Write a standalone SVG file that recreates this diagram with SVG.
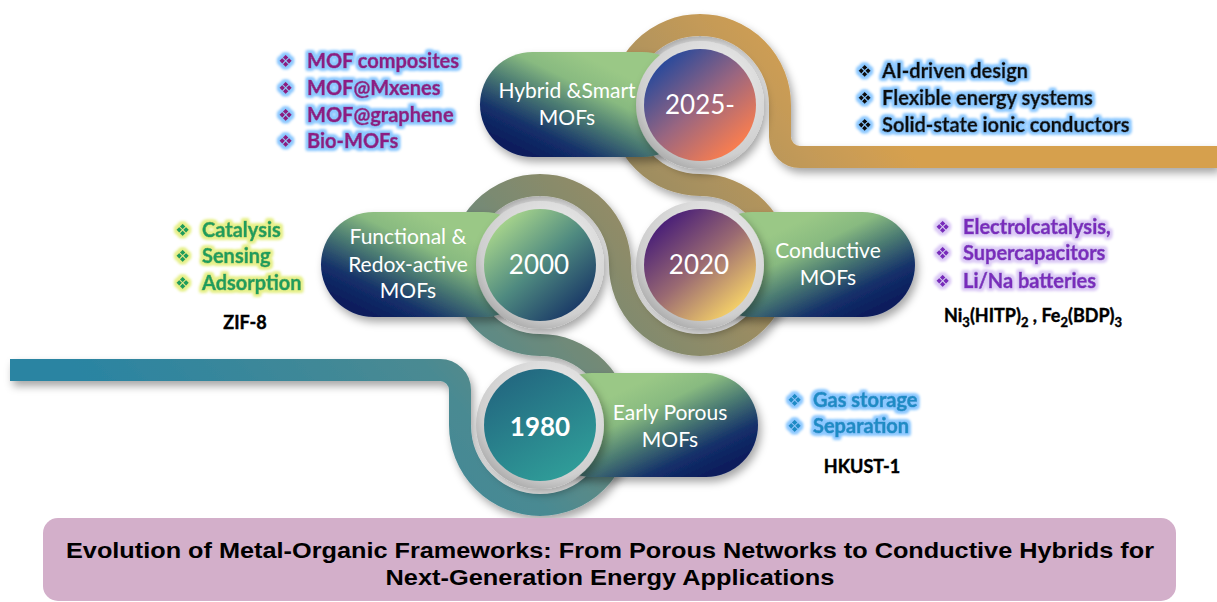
<svg xmlns="http://www.w3.org/2000/svg" width="1217" height="602" viewBox="0 0 1217 602">
<defs>
<linearGradient id="road" gradientUnits="userSpaceOnUse" x1="200" y1="520" x2="800" y2="20">
<stop offset="0" stop-color="#2a84a2"/><stop offset="0.35" stop-color="#4a8a92"/><stop offset="0.55" stop-color="#7a8a72"/><stop offset="0.7" stop-color="#9a8c62"/><stop offset="0.9" stop-color="#c49a58"/><stop offset="1" stop-color="#d6a04e"/>
</linearGradient>
<linearGradient id="pillL" x1="0.15" y1="0.9" x2="0.75" y2="0.3">
<stop offset="0" stop-color="#0b1d5c"/><stop offset="0.22" stop-color="#14306a"/><stop offset="0.5" stop-color="#4a7a72"/><stop offset="0.75" stop-color="#88ba80"/><stop offset="1" stop-color="#9ac886"/>
</linearGradient>
<linearGradient id="pillR" x1="0.85" y1="0.9" x2="0.25" y2="0.3">
<stop offset="0" stop-color="#0b1d5c"/><stop offset="0.22" stop-color="#14306a"/><stop offset="0.5" stop-color="#4a7a72"/><stop offset="0.75" stop-color="#88ba80"/><stop offset="1" stop-color="#9ac886"/>
</linearGradient>
<radialGradient id="ring" cx="0.6" cy="0.35" r="0.7">
<stop offset="0" stop-color="#f2f2f2"/><stop offset="0.8" stop-color="#cfcfcf"/><stop offset="1" stop-color="#a8a8a8"/>
</radialGradient>
<linearGradient id="c1980" x1="0.2" y1="0" x2="0.8" y2="1">
<stop offset="0" stop-color="#22657f"/><stop offset="1" stop-color="#30a09a"/>
</linearGradient>
<linearGradient id="c2000" x1="0.15" y1="0.1" x2="0.85" y2="0.9">
<stop offset="0" stop-color="#a9d68c"/><stop offset="0.5" stop-color="#4f8a80"/><stop offset="1" stop-color="#183766"/>
</linearGradient>
<linearGradient id="c2020" x1="0.15" y1="0.1" x2="0.85" y2="0.9">
<stop offset="0" stop-color="#461c78"/><stop offset="0.5" stop-color="#9a6a72"/><stop offset="1" stop-color="#f8d468"/>
</linearGradient>
<linearGradient id="c2025" x1="0.15" y1="0.1" x2="0.85" y2="0.9">
<stop offset="0" stop-color="#24489c"/><stop offset="0.5" stop-color="#9a6680"/><stop offset="1" stop-color="#ff7f4c"/>
</linearGradient>
<filter id="sh" x="-20%" y="-20%" width="140%" height="150%">
<feDropShadow dx="3" dy="5" stdDeviation="4" flood-color="#000" flood-opacity="0.35"/>
</filter>
<filter id="gBlue" x="-10%" y="-40%" width="120%" height="180%">
<feMorphology in="SourceAlpha" operator="dilate" radius="1.5" result="d"/><feGaussianBlur in="d" stdDeviation="1.8" result="b"/><feFlood flood-color="#8cc8ff"/><feComposite in2="b" operator="in" result="g"/>
<feMerge><feMergeNode in="g"/><feMergeNode in="g"/><feMergeNode in="SourceGraphic"/></feMerge>
</filter>
<filter id="gGreen" x="-10%" y="-40%" width="120%" height="180%">
<feMorphology in="SourceAlpha" operator="dilate" radius="1.5" result="d"/><feGaussianBlur in="d" stdDeviation="1.8" result="b"/><feFlood flood-color="#e6f08a"/><feComposite in2="b" operator="in" result="g"/>
<feMerge><feMergeNode in="g"/><feMergeNode in="g"/><feMergeNode in="SourceGraphic"/></feMerge>
</filter>
<filter id="gPurple" x="-10%" y="-40%" width="120%" height="180%">
<feMorphology in="SourceAlpha" operator="dilate" radius="1.5" result="d"/><feGaussianBlur in="d" stdDeviation="1.8" result="b"/><feFlood flood-color="#dccbf6"/><feComposite in2="b" operator="in" result="g"/>
<feMerge><feMergeNode in="g"/><feMergeNode in="g"/><feMergeNode in="SourceGraphic"/></feMerge>
</filter>
<style>
.lbl{font-family:Lato,"Open Sans",sans-serif;font-size:21px;fill:#fff;text-anchor:middle}
.yr{font-family:Lato,"Open Sans",sans-serif;font-size:26px;fill:#fff;text-anchor:middle}
.li{font-family:Lato,"Open Sans",sans-serif;font-weight:700;font-size:20px;stroke-width:0.6px}
.bul{font-family:"DejaVu Sans",sans-serif;font-size:17px;stroke:none}
.mol{font-family:Lato,"Open Sans",sans-serif;font-weight:700;font-size:18px;fill:#000;stroke:#000;stroke-width:0.4px}
.ttl{font-family:"Liberation Sans",Arial,sans-serif;font-weight:700;font-size:22px;fill:#000;text-anchor:middle}
.ring{fill:url(#ring)}
</style>
</defs>
<rect width="1217" height="602" fill="#ffffff"/>

<g id="connectors">
<path d="M 10 370 H 440 A 20 20 0 0 1 460 390 V 425 A 80 80 0 0 0 540 505 A 80 80 0 0 0 620 425 A 80 80 0 0 0 540 345 A 80 80 0 0 1 460 265 A 80 80 0 0 1 540 185 A 80 80 0 0 1 620 265 A 80 80 0 0 0 700 345 A 80 80 0 0 0 780 265 A 80 80 0 0 0 700 185 A 80 80 0 0 1 620 105 A 80 80 0 0 1 700 25 A 80 80 0 0 1 780 105 V 137 A 20 20 0 0 0 800 157 H 1217" fill="none" stroke="url(#road)" stroke-width="22" filter="url(#sh)"/>
</g>

<g id="title">
<rect x="43" y="518" width="1133" height="83" rx="15" fill="#d3afca"/>
<text class="ttl" x="610" y="558" textLength="1088" lengthAdjust="spacingAndGlyphs">Evolution of Metal-Organic Frameworks: From Porous Networks to Conductive Hybrids for</text>
<text class="ttl" x="610" y="585" textLength="449" lengthAdjust="spacingAndGlyphs">Next-Generation Energy Applications</text>
</g>

<g id="node-1980">
<rect x="540" y="373" width="218" height="104" rx="52" fill="url(#pillR)" filter="url(#sh)"/>
<circle cx="540" cy="425" r="64" class="ring" filter="url(#sh)"/>
<circle cx="540" cy="425" r="56" fill="url(#c1980)"/>
<text class="yr" x="540" y="436" font-weight="700">1980</text>
<text class="lbl" x="670" y="420">Early Porous</text>
<text class="lbl" x="670" y="447">MOFs</text>
</g>

<g id="node-2000">
<rect x="321" y="212" width="215" height="105" rx="52.5" fill="url(#pillL)" filter="url(#sh)"/>
<circle cx="540" cy="265" r="64" class="ring" filter="url(#sh)"/>
<circle cx="540" cy="265" r="56" fill="url(#c2000)"/>
<text class="yr" x="539" y="274">2000</text>
<text class="lbl" x="408" y="244">Functional &amp;</text>
<text class="lbl" x="408" y="272">Redox-active</text>
<text class="lbl" x="408" y="298">MOFs</text>
</g>

<g id="node-2020">
<rect x="700" y="212" width="215" height="105" rx="52.5" fill="url(#pillR)" filter="url(#sh)"/>
<circle cx="700" cy="265" r="64" class="ring" filter="url(#sh)"/>
<circle cx="700" cy="265" r="56" fill="url(#c2020)"/>
<text class="yr" x="699" y="274">2020</text>
<text class="lbl" x="828" y="258">Conductive</text>
<text class="lbl" x="828" y="285">MOFs</text>
</g>

<g id="node-2025">
<rect x="480" y="52" width="215" height="105" rx="52.5" fill="url(#pillL)" filter="url(#sh)"/>
<circle cx="700" cy="105" r="64" class="ring" filter="url(#sh)"/>
<circle cx="700" cy="105" r="56" fill="url(#c2025)"/>
<text class="yr" x="700" y="114" font-size="24">2025-</text>
<text class="lbl" x="567" y="98">Hybrid &amp;Smart</text>
<text class="lbl" x="567" y="125">MOFs</text>
</g>

<g id="list-2025-left" fill="#8c1c84" stroke="#8c1c84" filter="url(#gBlue)">
<text class="bul" x="278" y="67">❖</text><text class="li" x="307" y="68">MOF composites</text>
<text class="bul" x="278" y="94">❖</text><text class="li" x="307" y="95">MOF@Mxenes</text>
<text class="bul" x="278" y="121">❖</text><text class="li" x="307" y="122">MOF@graphene</text>
<text class="bul" x="278" y="147">❖</text><text class="li" x="307" y="148">Bio-MOFs</text>
</g>

<g id="list-2025-right" fill="#111111" stroke="#111111" filter="url(#gBlue)">
<text class="bul" x="857" y="77">❖</text><text class="li" x="882" y="78">AI-driven design</text>
<text class="bul" x="857" y="104">❖</text><text class="li" x="882" y="105">Flexible energy systems</text>
<text class="bul" x="857" y="131">❖</text><text class="li" x="882" y="132">Solid-state ionic conductors</text>
</g>

<g id="list-2000" fill="#1f9e5c" stroke="#1f9e5c" filter="url(#gGreen)">
<text class="bul" x="175" y="236">❖</text><text class="li" x="202" y="237">Catalysis</text>
<text class="bul" x="175" y="262">❖</text><text class="li" x="202" y="263">Sensing</text>
<text class="bul" x="175" y="289">❖</text><text class="li" x="202" y="290">Adsorption</text>
</g>
<text class="mol" x="245" y="329" text-anchor="middle">ZIF-8</text>

<g id="list-2020" fill="#7a2cbc" stroke="#7a2cbc" filter="url(#gPurple)">
<text class="bul" x="935" y="233">❖</text><text class="li" x="963" y="234">Electrolcatalysis,</text>
<text class="bul" x="935" y="259">❖</text><text class="li" x="963" y="260">Supercapacitors</text>
<text class="bul" x="935" y="287">❖</text><text class="li" x="963" y="288">Li/Na batteries</text>
</g>
<text class="mol" x="944" y="322" font-size="20">Ni<tspan font-size="13" dy="5">3</tspan><tspan dy="-5">(HITP)</tspan><tspan font-size="13" dy="5">2</tspan><tspan dy="-5"> , Fe</tspan><tspan font-size="13" dy="5">2</tspan><tspan dy="-5">(BDP)</tspan><tspan font-size="13" dy="5">3</tspan></text>

<g id="list-1980" fill="#1f8cc6" stroke="#1f8cc6" filter="url(#gBlue)">
<text class="bul" x="787" y="406">❖</text><text class="li" x="813" y="407">Gas storage</text>
<text class="bul" x="787" y="432">❖</text><text class="li" x="813" y="433">Separation</text>
</g>
<text class="mol" x="862" y="473" text-anchor="middle">HKUST-1</text>
</svg>
